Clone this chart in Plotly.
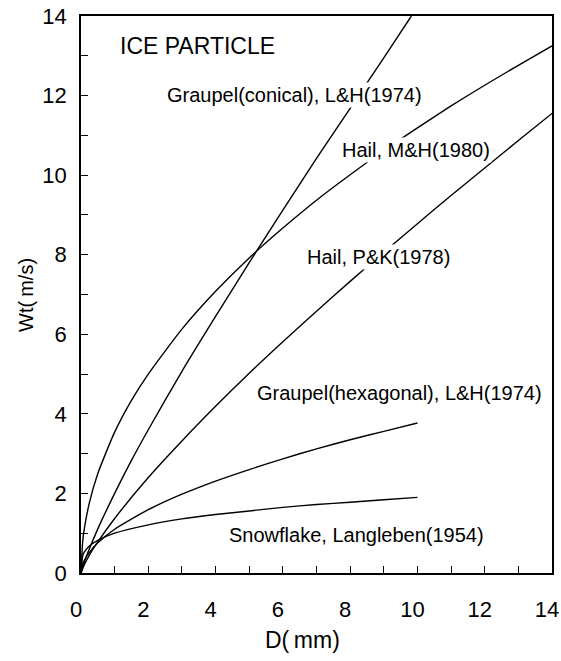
import plotly.graph_objects as go

# Terminal fall velocity Wt (m/s) versus particle diameter D (mm)
d_conical = [0, 0.1, 0.25, 0.5, 1, 1.5, 2, 3, 4, 5, 6, 7, 8, 9, 9.82]
wt_conical = [0, 0.28, 0.61, 1.11, 2.0, 2.83, 3.6, 5.07, 6.45, 7.8, 9.12, 10.42, 11.68, 12.95, 14.0]

d_hail_mh = [0, 0.05, 0.1, 0.25, 0.5, 1, 1.5, 2, 3, 4, 5, 6, 7, 8, 9, 10, 11, 12, 13, 14]
wt_hail_mh = [0, 0.79, 1.12, 1.77, 2.5, 3.54, 4.34, 5.0, 6.13, 7.08, 7.92, 8.67,
              9.37, 10.01, 10.62, 11.19, 11.74, 12.26, 12.76, 13.25]

d_hail_pk = [0, 0.1, 0.25, 0.5, 1, 2, 3, 4, 5, 6, 7, 8, 9, 10, 11, 12, 13, 14]
wt_hail_pk = [0, 0.21, 0.45, 0.78, 1.37, 2.40, 3.32, 4.19, 5.02, 5.81, 6.58, 7.33,
              8.06, 8.78, 9.49, 10.18, 10.87, 11.55]

d_hexagonal = [0, 0.05, 0.1, 0.25, 0.5, 1, 2, 3, 4, 5, 6, 7, 8, 9, 10]
wt_hexagonal = [0, 0.22, 0.32, 0.52, 0.76, 1.1, 1.59, 1.98, 2.31, 2.60, 2.87, 3.12, 3.35, 3.56, 3.77]

d_snow = [0, 0.05, 0.1, 0.25, 0.5, 1, 2, 3, 4, 5, 6, 7, 8, 9, 10]
wt_snow = [0, 0.43, 0.53, 0.68, 0.82, 1.0, 1.21, 1.36, 1.47, 1.56, 1.65, 1.72, 1.78, 1.84, 1.90]

series = [
    (d_conical, wt_conical),
    (d_hail_mh, wt_hail_mh),
    (d_hail_pk, wt_hail_pk),
    (d_hexagonal, wt_hexagonal),
    (d_snow, wt_snow),
]

# Curve labels: text, left x, centre y (data units), font size; white box masks lines
labels = [
    ("ICE PARTICLE", 1.10, 13.24, 23),
    ("Graupel(conical), L&H(1974)", 2.50, 12.01, 20),
    ("Hail, M&H(1980)", 7.70, 10.63, 20),
    ("Hail, P&K(1978)", 6.66, 7.94, 20),
    ("Graupel(hexagonal), L&H(1974)", 5.17, 4.52, 20),
    ("Snowflake, Langleben(1954)", 4.34, 0.955, 20),
]

x_ticks = [0, 2, 4, 6, 8, 10, 12, 14]
y_ticks = [0, 2, 4, 6, 8, 10, 12, 14]

FONT = "Liberation Sans, Arial, sans-serif"

fig = go.Figure()
for xs, ys in series:
    fig.add_trace(go.Scatter(
        x=xs, y=ys, mode="lines",
        line=dict(color="black", width=1.4, shape="spline", smoothing=0.6),
        showlegend=False, hoverinfo="skip", cliponaxis=True,
    ))

for text, x, y, size in labels:
    fig.add_annotation(
        x=x, y=y, xref="x", yref="y", text=text, showarrow=False,
        xanchor="left", yanchor="middle", bgcolor="white", borderpad=1,
        font=dict(family=FONT, size=size, color="black"),
    )

fig.add_annotation(
    x=0.47, y=-0.12, xref="paper", yref="paper", text="D(\u2009mm)", showarrow=False,
    xanchor="center", yanchor="middle", font=dict(family=FONT, size=23, color="black"),
)
fig.add_annotation(
    x=-0.118, y=0.5, xref="paper", yref="paper", text="Wt(\u2009m/s)", showarrow=False,
    textangle=-90, xanchor="center", yanchor="middle",
    font=dict(family=FONT, size=20, color="black"),
)

axis_common = dict(
    showgrid=False, zeroline=False, showline=True, linecolor="black", linewidth=1.5,
    mirror=True, ticks="inside", ticklen=7, tickwidth=1.2, tickcolor="black",
    range=[0, 14], tickmode="array", fixedrange=True, ticklabeloverflow="allow",
    automargin=False,
    minor=dict(ticks="inside", ticklen=7, tickwidth=1.2, tickcolor="black", dtick=1, showgrid=False),
)

fig.update_xaxes(**axis_common, tickvals=x_ticks, ticktext=[str(v) for v in x_ticks],
                 tickfont=dict(family=FONT, size=22, color="black"),
                 ticklabelstandoff=16, ticklabelshift=-5)
fig.update_yaxes(**axis_common, tickvals=y_ticks, ticktext=[str(v) for v in y_ticks],
                 tickfont=dict(family=FONT, size=22, color="black"), ticklabelstandoff=8)

fig.update_layout(
    width=561, height=661,
    margin=dict(l=81, r=9, t=16, b=88, autoexpand=False),
    paper_bgcolor="white", plot_bgcolor="white",
)

fig.write_html("out.html")
